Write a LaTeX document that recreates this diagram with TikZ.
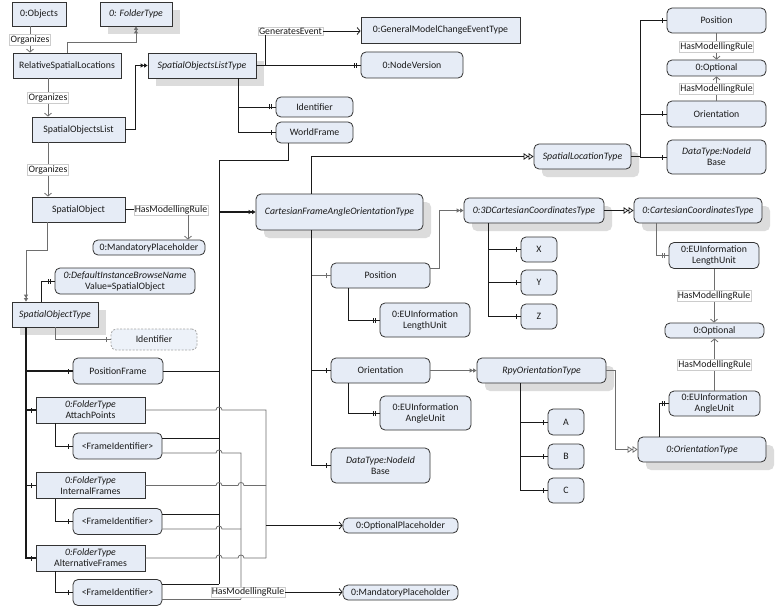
\documentclass[tikz,border=0pt]{standalone}
\usepackage{fontspec}
\setmainfont{Carlito}
\usetikzlibrary{arrows.meta,shadows,decorations.markings}
\definecolor{nfill}{HTML}{E6ECF6}
\definecolor{nline}{HTML}{333333}
\definecolor{shadowc}{HTML}{DCDCDC}
\definecolor{lk}{HTML}{1A1A1A}
\definecolor{lg}{HTML}{6E6E6E}
\newcommand{\jhop}[2]{-- ({#1-3},#2) .. controls ({#1-3},{#2-4}) and ({#1+3},{#2-4}) .. ({#1+3},#2)}
\tikzset{
  base/.style={draw=nline, fill=nfill, line width=0.8pt, inner sep=1pt, align=center,
    font=\fontsize{9.8}{11}\selectfont, text=black!90},
  sq/.style={base},
  rd/.style={base, rounded corners=5pt},
  wh/.style 2 args={minimum width=#1pt, minimum height=#2pt},
  tshadow/.style={drop shadow={shadow xshift=8pt, shadow yshift=-8pt, fill=shadowc, opacity=1}},
  lab/.style={fill=white, draw=black!20, line width=0.4pt, inner sep=1pt,
    font=\fontsize{9.8}{11}\selectfont, text=black!90},
  ln/.style={line width=0.8pt, draw=lk},
  lng/.style={line width=0.8pt, draw=lg},
  htd/.style={-{Triangle[length=3.5pt,width=4pt]Triangle[length=3.5pt,width=4pt]}},
  hst/.style={-{Triangle[open,length=5pt,width=6.5pt,fill=white]Triangle[open,length=5pt,width=6.5pt,fill=white]}},
  refa/.style={-{Straight Barb[length=3pt,width=7pt]}},
  hc/.style={postaction={decorate}, decoration={markings,
    mark=at position -4pt with {\draw[-, line width=0.8pt] (0pt,-2.5pt) -- (0pt,2.5pt);}}},
  hp/.style={postaction={decorate}, decoration={markings,
    mark=at position -4pt with {\draw[-, line width=0.8pt] (0pt,-2.5pt) -- (0pt,2.5pt);},
    mark=at position -6.5pt with {\draw[-, line width=0.8pt] (0pt,-2.5pt) -- (0pt,2.5pt);}}},
}
\begin{document}
\begin{tikzpicture}[x=1pt, y=-1pt]
\fill[white] (0,0) rectangle (776,607);
\useasboundingbox (0,0) rectangle (776,607);

% ---------- nodes ----------
\node[sq,wh={54}{24}] (objects) at (39,14) {0:Objects};
\node[sq,tshadow,wh={72}{24}] (folderT) at (136,14) {\itshape 0: FolderType};
\node[sq,wh={108}{25}] (rsl) at (67,65.5) {RelativeSpatialLocations};
\node[sq,wh={93}{25}] (sol) at (78.5,129.5) {SpatialObjectsList};
\node[sq,tshadow,wh={108}{25}] (solt) at (202,65.5) {\itshape SpatialObjectsListType};
\node[sq,wh={159}{26}] (gmcet) at (440.5,30) {0:GeneralModelChangeEventType};
\node[rd,wh={102}{26}] (nodever) at (412,65) {0:NodeVersion};
\node[rd,wh={77}{20}] (ident1) at (314.5,107) {Identifier};
\node[rd,wh={77}{21}] (worldf) at (314.5,132.5) {WorldFrame};
\node[sq,wh={93}{25}] (so) at (78.5,209.5) {SpatialObject};
\node[rd,wh={112}{15}] (mand1) at (149,247.5) {0:MandatoryPlaceholder};
\node[rd,wh={140}{26}] (dibn) at (125,281) {{\itshape 0:DefaultInstanceBrowseName}\\Value=SpatialObject};
\node[sq,tshadow,wh={86}{25}] (sot) at (55,314.5) {\itshape SpatialObjectType};
\node[rd,draw=black!35,dash pattern=on 2pt off 1.5pt,fill=nfill!70,wh={86}{21}] (ident2) at (154,339.5) {Identifier};
\node[rd,wh={90}{26}] (posframe) at (118,371) {PositionFrame};
\node[sq,wh={109}{26}] (attach) at (90.5,410) {{\itshape 0:FolderType}\\AttachPoints};
\node[rd,wh={89}{26}] (fid1) at (117.5,446) {<FrameIdentifier>};
\node[sq,wh={109}{26}] (internal) at (90.5,485.5) {{\itshape 0:FolderType}\\InternalFrames};
\node[rd,wh={89}{26}] (fid2) at (117.5,521.5) {<FrameIdentifier>};
\node[sq,wh={109}{26}] (altern) at (90.5,558) {{\itshape 0:FolderType}\\AlternativeFrames};
\node[rd,wh={89}{26}] (fid3) at (117.5,592.5) {<FrameIdentifier>};
\node[rd,tshadow,wh={167}{36}] (cfaot) at (339.5,212) {\itshape CartesianFrameAngleOrientationType};
\node[rd,wh={99}{25}] (pos2) at (380.5,275.5) {Position};
\node[rd,wh={90}{34}] (eul1) at (425,320) {0:EUInformation\\LengthUnit};
\node[rd,wh={99}{25}] (ori2) at (380.5,370.5) {Orientation};
\node[rd,wh={91}{34}] (eua1) at (425.5,413) {0:EUInformation\\AngleUnit};
\node[rd,wh={99}{35}] (dt2) at (380.5,465.5) {{\itshape DataType:NodeId}\\Base};
\node[rd,wh={115}{15}] (optph) at (400.5,525.5) {0:OptionalPlaceholder};
\node[rd,wh={115}{15}] (mandph) at (400.5,592.5) {0:MandatoryPlaceholder};
\node[rd,tshadow,wh={140}{25}] (c3d) at (534,210.5) {\itshape 0:3DCartesianCoordinatesType};
\node[rd,wh={36}{25}] (nx) at (539,249.5) {X};
\node[rd,wh={36}{25}] (ny) at (539,282.5) {Y};
\node[rd,wh={36}{25}] (nz) at (539,316.5) {Z};
\node[rd,tshadow,wh={128}{25}] (cct) at (698,210.5) {\itshape 0:CartesianCoordinatesType};
\node[rd,wh={90}{26}] (eul2) at (714,255.5) {0:EUInformation\\LengthUnit};
\node[rd,wh={99}{15}] (opt2) at (714.5,330.5) {0:Optional};
\node[rd,tshadow,wh={129}{25}] (rpy) at (541.5,370.5) {\itshape RpyOrientationType};
\node[rd,wh={36}{26}] (na) at (566,422) {A};
\node[rd,wh={36}{25}] (nb) at (566,456.5) {B};
\node[rd,wh={36}{25}] (nc) at (566,490.5) {C};
\node[rd,tshadow,wh={128}{25}] (ot) at (702,449.5) {\itshape 0:OrientationType};
\node[rd,wh={91}{25}] (eua2) at (714.5,403.5) {0:EUInformation\\AngleUnit};
\node[rd,tshadow,wh={97}{25}] (slt) at (582.5,156.5) {\itshape SpatialLocationType};
\node[rd,wh={99}{25}] (pos3) at (716.5,20.5) {Position};
\node[rd,wh={99}{16}] (opt3) at (716.5,68) {0:Optional};
\node[rd,wh={99}{26}] (ori3) at (716.5,114) {Orientation};
\node[rd,wh={99}{34}] (dt3) at (716.5,157) {{\itshape DataType:NodeId}\\Base};

% ---------- helper coordinates ----------
\coordinate (busT) at (219,160);
\coordinate (busB) at (219,584);
\coordinate (vA) at (241,453);
\coordinate (vB) at (241,599);
\coordinate (vO1) at (266,410);
\coordinate (vO2) at (266,558);
\coordinate (vOm) at (266,525.5);

% ---------- upper left ----------
\draw[lng,refa] ([xshift=-9]objects.south) -- ([xshift=-9]objects.south |- rsl.north) node[lab,midway] {Organizes};
\draw[lng,htd] (rsl.north) |- ([yshift=10]rsl.north -| folderT.south) -- (folderT.south);
\draw[lng,refa] ([xshift=-19]rsl.south) -- ([xshift=-19]rsl.south |- sol.north) node[lab,midway] {Organizes};
\draw[lng,refa] ([xshift=-30.5]sol.south) -- ([xshift=-30.5]sol.south |- so.north) node[lab,midway] {Organizes};
\draw[ln,htd] (sol.east) -- ++(10,0) |- (solt.west);

% ---------- SpatialObjectsListType ----------
\node[lab] (ge) at (290.5,31) {GeneratesEvent};
\draw[ln] (solt.east) -| ([xshift=-25.5]ge.south);
\draw[ln,refa] (ge.east) -- (ge.east -| gmcet.west);
\draw[ln,hp] (solt.east) -- (solt.east -| nodever.west);
\draw[ln,hp] ([xshift=36]solt.south) |- (ident1.west);
\draw[ln,hc] ([xshift=36]solt.south) |- (worldf.west);

% ---------- SpatialObject ----------
\node[lab] (hmr1) at (171,210) {HasModellingRule};
\draw[ln] (so.east) -- (so.east -| hmr1.west);
\draw[lng,refa] ([xshift=17]hmr1.south) -- ([xshift=17]hmr1.south |- mand1.north);
\draw[lng,htd] ([xshift=-31.5]so.south) -- ++(0,28) -| ([xshift=-29]sot.north);

% ---------- SpatialObjectType ----------
\draw[ln,hp] ([xshift=-14]sot.north) |- (dibn.west);
\draw[lng,hc] (sot.south) |- (ident2.west);
\draw[lk,line width=1.2pt,hc] ([xshift=-29]sot.south) |- (posframe.west);
\draw[lk,line width=1.2pt,hc] ([xshift=-29]sot.south) |- (attach.west);
\draw[lk,line width=1.2pt,hc] ([xshift=-29]sot.south) |- (internal.west);
\draw[lk,line width=1.2pt,hc] ([xshift=-29]sot.south) |- (altern.west);
\draw[ln,hc] ([xshift=-35.5]attach.south) |- (fid1.west);
\draw[ln,hc] ([xshift=-35.5]internal.south) |- (fid2.west);
\draw[ln,hc] ([xshift=-35.5]altern.south) |- (fid3.west);

% ---------- bus to CartesianFrameAngleOrientationType ----------
\draw[ln] ([xshift=-26.5]worldf.south) |- (busT) -- (busB);
\draw[lk,line width=1.6pt,htd] (busT |- cfaot.west) -- (cfaot.west);
\draw[ln] (posframe.east) -- (posframe.east -| busT);
\draw[ln] ([yshift=8]fid1.east) -- ([yshift=8]fid1.east -| busT);
\draw[ln] ([yshift=7.5]fid2.east) -- ([yshift=7.5]fid2.east -| busT);
\draw[ln] ([yshift=8.5]fid3.east) -- ([yshift=8.5]fid3.east -| busT);

% ---------- placeholders ----------
\draw[lng] (attach.east) \jhop{219}{410} -- (vO1) -- (vO2);
\draw[lng] (internal.east) \jhop{219}{485.5} \jhop{241}{485.5} -- (266,485.5);
\draw[lng] (altern.east) \jhop{219}{558} \jhop{241}{558} -- (vO2);
\draw[lng] ([yshift=-7]fid1.east) \jhop{219}{453} -- (vA) -- (vB);
\draw[lng] ([yshift=-7.5]fid2.east) \jhop{219}{529} -- (241,529);
\draw[lng] ([yshift=-6.5]fid3.east) -- (vB);
\draw[ln,refa] (vOm) -- (optph.west);
\node[lab] (hmrB) at (248,592) {HasModellingRule};
\draw[ln,refa] (hmrB.east) -- (hmrB.east -| mandph.west);

% ---------- CartesianFrameAngleOrientationType ----------
\draw[ln,hst] ([xshift=-28.5]cfaot.north) |- (slt.west);
\draw[lng,hc] ([xshift=-28.5]cfaot.south) |- (pos2.west);
\draw[ln,hc] ([xshift=-28.5]cfaot.south) |- (ori2.west);
\draw[ln,hc] ([xshift=-28.5]cfaot.south) |- (dt2.west);
\draw[lng,htd] ([yshift=7.5]pos2.east) -- ++(9,0) |- (c3d.west);
\draw[ln,hp] ([xshift=-32.5]pos2.south) |- (eul1.west);
\draw[lng,htd] (ori2.east) -- (rpy.west);
\draw[ln,hp] ([xshift=-32.5]ori2.south) |- (eua1.west);

% ---------- 3D cartesian ----------
\draw[ln,hc] ([xshift=-46]c3d.south) |- (nx.west);
\draw[ln,hc] ([xshift=-46]c3d.south) |- (ny.west);
\draw[ln,hc] ([xshift=-46]c3d.south) |- (nz.west);
\draw[ln,hst] (c3d.east) -- (cct.west);
\draw[lng,hp] ([xshift=-42]cct.south) |- (eul2.west);
\draw[lng,refa] (eul2.south) -- (eul2.south |- opt2.north) node[lab,midway] {HasModellingRule};

% ---------- orientation ----------
\draw[ln,hc] ([xshift=-21.5]rpy.south) |- (na.west);
\draw[ln,hc] ([xshift=-21.5]rpy.south) |- (nb.west);
\draw[ln,hc] ([xshift=-21.5]rpy.south) |- (nc.west);
\draw[lng,hst] (rpy.east) -- ++(9,0) |- (ot.west);
\draw[ln,hp] ([xshift=-43]ot.north) |- (eua2.west);
\draw[lng,refa] (eua2.north) -- (eua2.north |- opt2.south) node[lab,midway] {HasModellingRule};

% ---------- SpatialLocationType ----------
\draw[ln,hc] (slt.east) -- ++(9,0) |- (pos3.west);
\draw[ln,hc] (slt.east) -- ++(9,0) |- (ori3.west);
\draw[ln,hc] (slt.east) -- ++(9,0) |- (dt3.west);
\draw[lng,refa] (pos3.south) -- (opt3.north) node[lab,midway] {HasModellingRule};
\draw[lng,refa] (ori3.north) -- (opt3.south) node[lab,midway] {HasModellingRule};
\end{tikzpicture}
\end{document}
